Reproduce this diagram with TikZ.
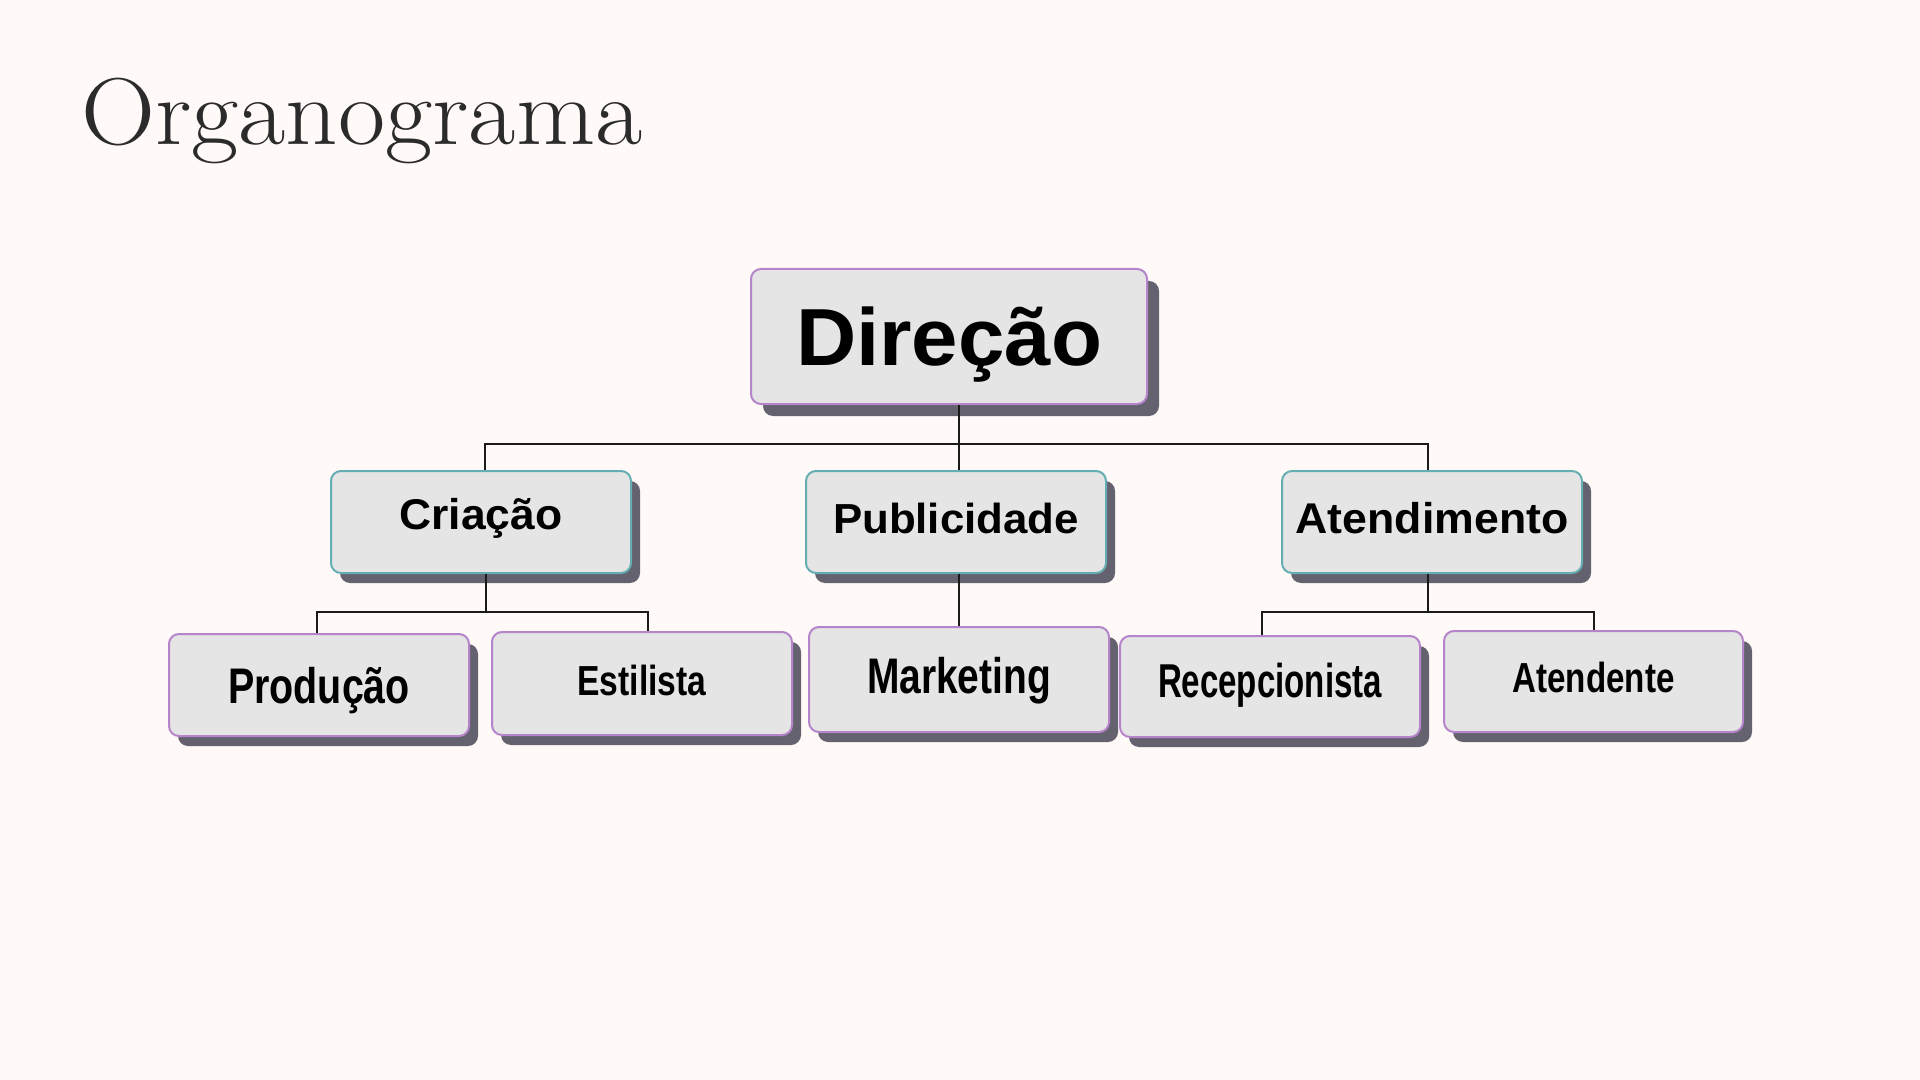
\documentclass[tikz,border=0pt]{standalone}
\usepackage{fontspec}
\usepackage{graphicx}
\usetikzlibrary{shadows}
\newfontfamily\boxfont{Liberation Sans}
\definecolor{bgc}{HTML}{FFF9F8}
\definecolor{boxfill}{HTML}{E5E5E5}
\definecolor{purp}{HTML}{B584CB}
\definecolor{teal}{HTML}{64AEB3}
\definecolor{shadowc}{HTML}{64626F}
\definecolor{titlec}{HTML}{2B2B2B}
\definecolor{linec}{HTML}{1A1A1A}
\newcommand\fitw[2]{\resizebox{#1}{\height}{#2}}
\tikzset{
  basebox/.style={draw, line width=1pt, fill=boxfill, rounded corners=5pt,
    inner sep=0pt, align=center, text=black, font=\boxfont\bfseries},
  topbox/.style={basebox, draw=purp, minimum width=198pt, minimum height=67.5pt,
    drop shadow={shadow xshift=6pt, shadow yshift=-6pt, fill=shadowc, opacity=1}},
  midbox/.style={basebox, draw=teal, minimum width=150pt, minimum height=51pt,
    drop shadow={shadow xshift=4.5pt, shadow yshift=-5pt, fill=shadowc, opacity=1}},
  lowbox/.style={basebox, draw=purp, minimum width=150pt, minimum height=51pt,
    drop shadow={shadow xshift=4.5pt, shadow yshift=-5pt, fill=shadowc, opacity=1}},
  conn/.style={draw=linec, line width=1pt}
}
\begin{document}
\begin{tikzpicture}[x=0.5pt, y=-0.5pt]
\fill[bgc] (0,0) rectangle (1920,1080);
\useasboundingbox (0,0) rectangle (1920,1080);

\node[anchor=base west, inner sep=0pt, text=titlec, font=\fontsize{47.5pt}{50pt}\selectfont] (title) at (81,145) {\fitw{280.5pt}{Organograma}};

% level 1
\node[topbox, text height=29pt, text depth=0pt] (dir) at (949,336.5) {\fontsize{40.5pt}{44pt}\selectfont\fitw{153pt}{Direção}};

% level 2
\node[midbox, text height=15.5pt, text depth=8.5pt] (cri) at (481,522) {\fontsize{21.5pt}{24pt}\selectfont\fitw{81.5pt}{Criação}};
\node[midbox, text height=15pt, text depth=4pt] (pub) at (956,522) {\fontsize{21pt}{24pt}\selectfont\fitw{123pt}{Publicidade}};
\node[midbox, text height=15.5pt, text depth=4.5pt] (ate) at (1432,522) {\fontsize{21.5pt}{24pt}\selectfont\fitw{136.5pt}{Atendimento}};

% level 3
\node[lowbox, text height=18pt, text depth=0pt] (pro) at (319,685) {\fontsize{25pt}{28pt}\selectfont\fitw{91pt}{Produção}};
\node[lowbox, minimum height=51.5pt, text height=15pt, text depth=3.5pt] (est) at (642,683.5) {\fontsize{21pt}{24pt}\selectfont\fitw{64.5pt}{Estilista}};
\node[lowbox, minimum height=52.5pt, text height=18pt, text depth=4.5pt] (mar) at (959,679.5) {\fontsize{25pt}{28pt}\selectfont\fitw{92pt}{Marketing}};
\node[lowbox, minimum height=50.5pt, text height=17pt, text depth=6.5pt] (rec) at (1270,686.5) {\fontsize{23.75pt}{26pt}\selectfont\fitw{112pt}{Recepcionista}};
\node[lowbox, minimum width=149.5pt, minimum height=50.5pt, text height=15pt, text depth=4.5pt] (atd) at (1593.5,681.5) {\fontsize{21pt}{24pt}\selectfont\fitw{81pt}{Atendente}};

% junction coordinates
\coordinate (j1) at (959,444);
\coordinate (l1) at (485,444);
\coordinate (r1) at (1428,444);
\coordinate (j2) at (486,612);
\coordinate (l2) at (317,612);
\coordinate (r2) at (648,612);
\coordinate (j3) at (1428,612);
\coordinate (l3) at (1262,612);
\coordinate (r3) at (1594,612);

% connectors
\draw[conn] (j1 |- dir.south) -- (j1);
\draw[conn] (l1 |- cri.north) -- (l1) -- (r1) -- (r1 |- ate.north);
\draw[conn] (j1) -- (j1 |- pub.north);

\draw[conn] (j2 |- cri.south) -- (j2);
\draw[conn] (l2 |- pro.north) -- (l2) -- (r2) -- (r2 |- est.north);

\draw[conn] (j1 |- pub.south) -- (j1 |- mar.north);

\draw[conn] (j3 |- ate.south) -- (j3);
\draw[conn] (l3 |- rec.north) -- (l3) -- (r3) -- (r3 |- atd.north);
\end{tikzpicture}
\end{document}
